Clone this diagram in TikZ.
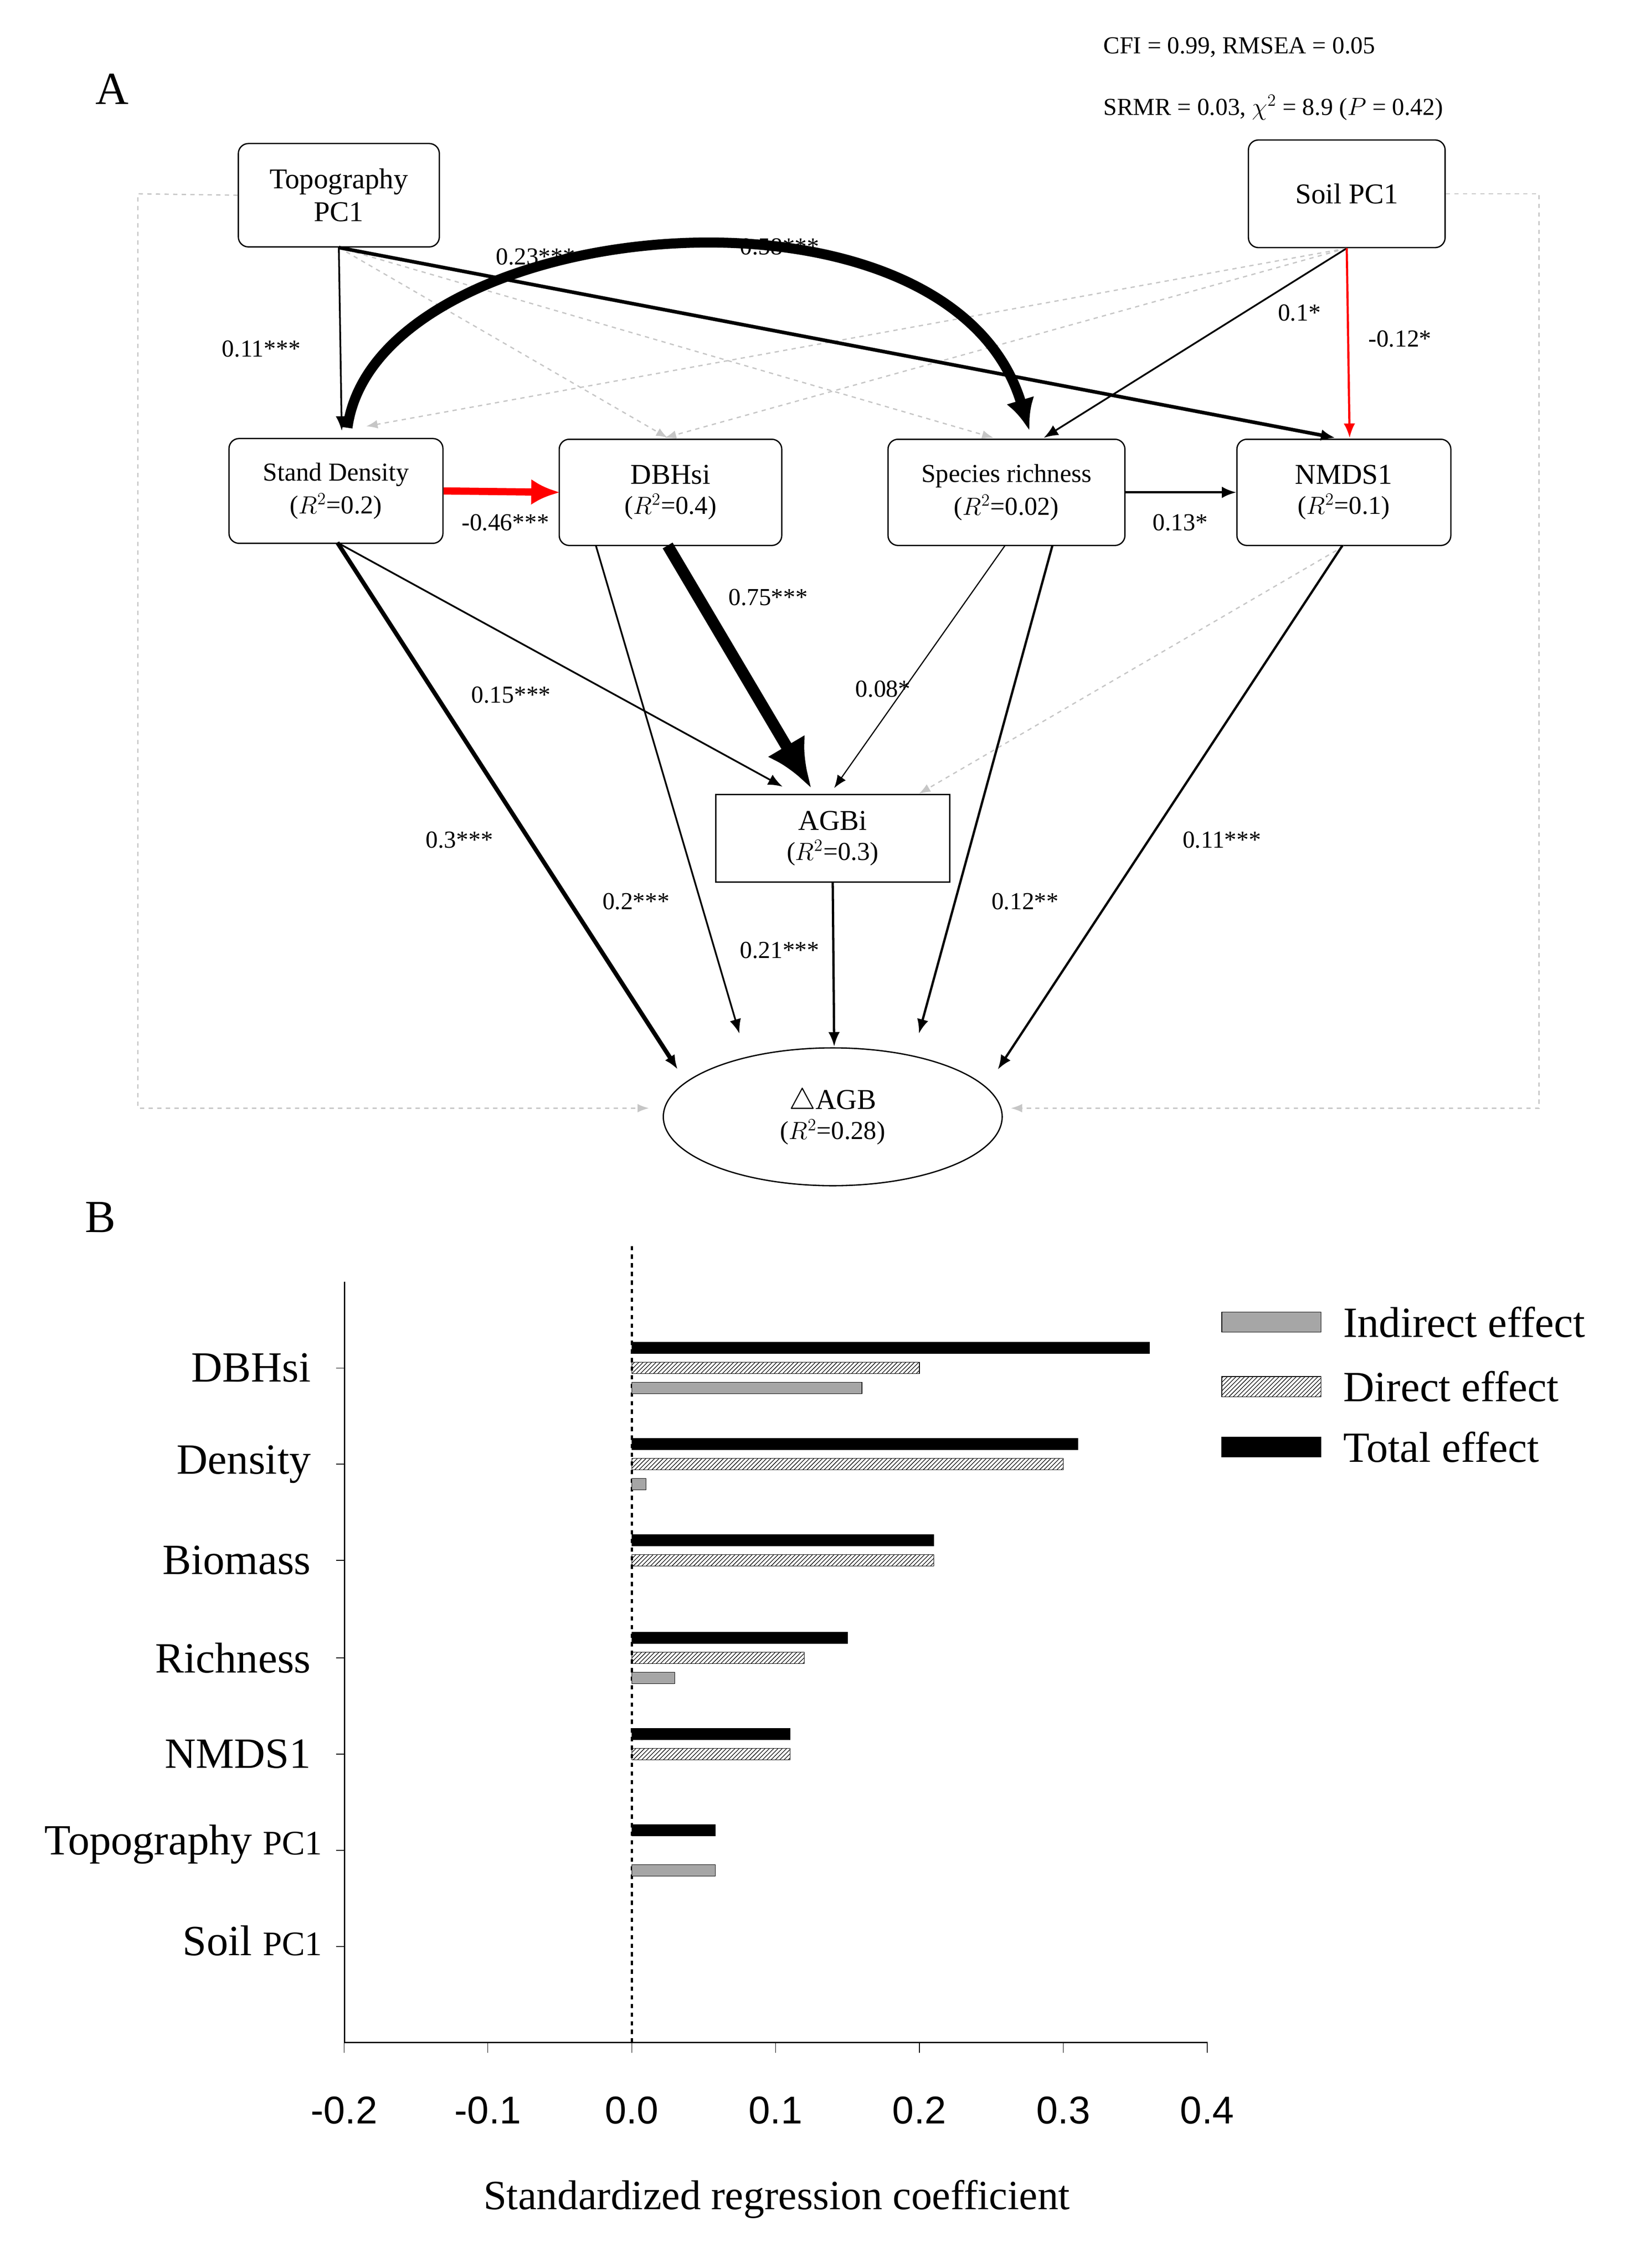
\documentclass[tikz,border=0pt]{standalone}
\usepackage{fontspec}
\setmainfont{Liberation Serif}
\newfontfamily\arial{Liberation Sans}
\usetikzlibrary{arrows.meta,shapes.geometric,patterns}
\begin{document}
\begin{tikzpicture}[x=1pt,y=-1pt,
 bx/.style={draw,rounded corners=7pt,align=center,font=\fontsize{20}{23}\selectfont,line width=0.9pt,inner sep=0pt},
 lab/.style={font=\fontsize{17}{20}\selectfont},
 ar/.style={-{Latex[length=10pt,width=8pt]},line width=1.2pt},
 gd/.style={-{Latex[length=8pt,width=6pt]},dashed,gray!45,line width=0.9pt},
 cat/.style={font=\fontsize{30}{34}\selectfont,anchor=east},
 tick/.style={font=\arial\fontsize{27}{30}\selectfont}]
\useasboundingbox (0,0) rectangle (1135,1580);
\node[font=\fontsize{32}{36}\selectfont] (A) at (78,62) {A};
\node[lab,anchor=west] (fit1) at (765,33) {CFI = 0.99, RMSEA = 0.05};
\node[lab,anchor=west] (fit2) at (765,75) {SRMR = 0.03, $\chi^2$ = 8.9 ($P$ = 0.42)};
\node[bx,minimum width=140pt,minimum height=72pt] (topo) at (236,136) {Topography\\PC1};
\node[bx,minimum width=137pt,minimum height=75pt] (soil) at (938,135) {Soil PC1};
\node[bx,minimum width=149pt,minimum height=73pt,font=\fontsize{18}{23}\selectfont] (sd) at (234,342) {Stand Density\\($R^2$=0.2)};
\node[bx,minimum width=155pt,minimum height=74pt] (dbh) at (467,343) {DBHsi\\[-2pt]{\fontsize{18}{20}\selectfont($R^2$=0.4)}};
\node[bx,minimum width=165pt,minimum height=74pt,font=\fontsize{18}{23}\selectfont] (sr) at (701,343) {Species richness\\($R^2$=0.02)};
\node[bx,minimum width=149pt,minimum height=74pt] (nm) at (936,343) {NMDS1\\[-2pt]{\fontsize{18}{20}\selectfont($R^2$=0.1)}};
\node[draw,line width=0.9pt,minimum width=163pt,minimum height=61pt,align=center,font=\fontsize{20}{23}\selectfont,inner sep=0pt] (agbi) at (580,584) {AGBi\\[-2pt]{\fontsize{18}{20}\selectfont($R^2$=0.3)}};
\node[draw,ellipse,line width=0.9pt,minimum width=236pt,minimum height=96pt,align=center,font=\fontsize{20}{23}\selectfont,inner sep=0pt] (agb) at (580,778) {$\triangle$AGB\\[-2pt]{\fontsize{18}{20}\selectfont($R^2$=0.28)}};
% gray dashed
\coordinate (tl) at (96,135); \coordinate (bl) at (96,772); \coordinate (el) at (452,772);
\coordinate (tr) at (1072,135); \coordinate (br) at (1072,772); \coordinate (er) at (704,772);
\draw[gd] (topo.west) -- (tl) -- (bl) -- (el);
\draw[gd] (soil.east) -- (tr) -- (br) -- (er);
\draw[gd] (topo.south) -- (465,305);
\draw[gd] (topo.south) -- (692,305);
\draw[gd] (soil.south) -- (255,297);
\draw[gd] (soil.south) -- (463,305);
\draw[gd] (nm.south) -- (640,553);
% black
\draw[ar] (topo.south) -- (238,300);
\draw[ar,line width=2.5pt] (topo.south) -- (930,305);
\draw[-{Latex[length=22pt,width=20pt]},line width=7pt] (242,298) .. controls (262,150) and (660,110) .. (717,300);
\draw[ar] (soil.south) -- (727,305);
\draw[-{Latex[length=10pt,width=8pt]},red,line width=1.5pt] (soil.south) -- (940,305);
\draw[-{Latex[length=20pt,width=18pt]},red,line width=5pt] (sd.east) -- (390,343);
\draw[ar,line width=1.6pt] (sr.east) -- (nm.west);
\draw[ar] (235,378) -- (545,548);
\draw[-{Latex[length=34pt,width=30pt]},line width=8pt] (465,380) -- (565,549);
\draw[-{Latex[length=9pt,width=7pt]},line width=0.8pt] (700,380) -- (581,549);
\draw[ar,line width=3pt] (235,378) -- (472,745);
\draw[ar] (415,380) -- (515,720);
\draw[ar,line width=1.6pt] (agbi.south) -- (581,729);
\draw[ar,line width=1.6pt] (733,380) -- (640,720);
\draw[ar,line width=1.6pt] (935,380) -- (695,745);
\node[lab] (l1) at (182,243) {0.11***};
\node[lab] (l2) at (373,179) {0.23***};
\node[lab] (l3) at (543,172) {0.58***};
\node[lab] (l4) at (905,218) {0.1*};
\node[lab] (l5) at (975,236) {-0.12*};
\node[lab] (l6) at (352,364) {-0.46***};
\node[lab] (l7) at (822,364) {0.13*};
\node[lab] (l8) at (356,484) {0.15***};
\node[lab] (l9) at (535,416) {0.75***};
\node[lab] (l10) at (615,480) {0.08*};
\node[lab] (l11) at (320,585) {0.3***};
\node[lab] (l12) at (443,628) {0.2***};
\node[lab] (l13) at (543,662) {0.21***};
\node[lab] (l14) at (714,628) {0.12**};
\node[lab] (l15) at (851,585) {0.11***};
% panel B
\node[font=\fontsize{32}{36}\selectfont] (B) at (70,848) {B};
\draw[line width=1pt] (240,893) -- (240,1423) -- (841,1423);
\draw[dashed,line width=1.6pt] (440,868) -- (440,1423);
\foreach \v/\t [count=\i] in {-0.2/-0.2,-0.1/-0.1,0/0.0,0.1/0.1,0.2/0.2,0.3/0.3,0.4/0.4}{
  \draw (440+\v*1002,1423) -- (440+\v*1002,1430);
  \node[tick] (t\i) at (440+\v*1002,1470) {\t};}
\node[font=\fontsize{29}{34}\selectfont] (xt) at (541,1532) {Standardized regression coefficient};
\foreach \y/\n [count=\i] in {953/DBHsi,1020/Density,1087/Biomass,1155/Richness,1222/NMDS1}{
  \draw (234,\y) -- (240,\y);
  \node[cat] (c\i) at (220,\y) {\n};}
\draw (234,1289) -- (240,1289); \draw (234,1356) -- (240,1356);
\node[cat] (c6) at (228,1285) {Topography {\fontsize{24}{28}\selectfont PC1}};
\node[cat] (c7) at (228,1352) {Soil {\fontsize{24}{28}\selectfont PC1}};
\tikzset{tot/.style={fill=black,draw=black},dir/.style={draw=black,pattern=north east lines},ind/.style={fill=gray!70,draw=black}}
\foreach \y/\a/\b/\c in {953/0.36/0.2/0.16,1020/0.31/0.30/0.01,1087/0.21/0.21/0,1155/0.15/0.12/0.03,1222/0.11/0.11/0,1289/0.058/0/0.058}{
  \draw[tot] (440,\y-18) rectangle (440+\a*1002,\y-10);
  \ifdim \b pt>0pt \draw[dir] (440,\y-4) rectangle (440+\b*1002,\y+4); \fi
  \ifdim \c pt>0pt \draw[ind] (440,\y+10) rectangle (440+\c*1002,\y+18); \fi
}
\draw[ind] (851,914) rectangle (920,928); \node[font=\fontsize{30}{34}\selectfont,anchor=west] (g1) at (932,921) {Indirect effect};
\draw[dir] (851,959) rectangle (920,973); \node[font=\fontsize{30}{34}\selectfont,anchor=west] (g2) at (932,966) {Direct effect};
\draw[tot] (851,1001) rectangle (920,1015); \node[font=\fontsize{30}{34}\selectfont,anchor=west] (g3) at (932,1008) {Total effect};
\end{tikzpicture}
\end{document}
